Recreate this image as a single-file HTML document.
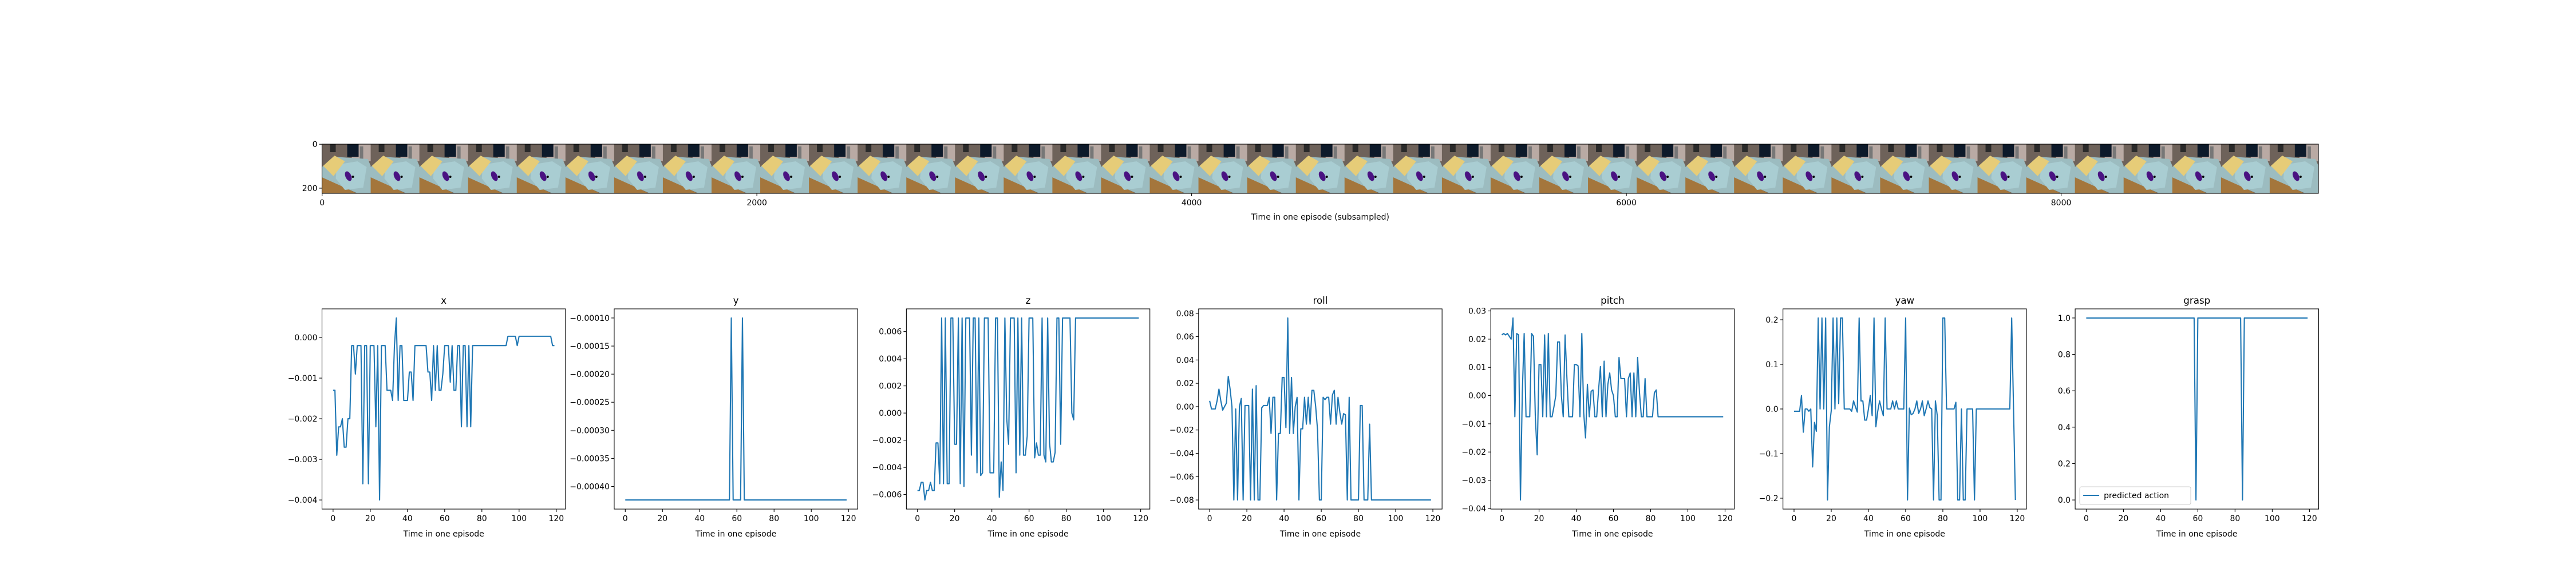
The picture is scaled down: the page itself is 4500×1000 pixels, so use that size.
<!DOCTYPE html>
<html><head><meta charset="utf-8"><style>
html,body{margin:0;padding:0;background:#fff;}
svg{display:block;font-family:"DejaVu Sans","Liberation Sans",sans-serif;}
</style></head><body>
<svg id="fig" width="4500" height="1000" viewBox="0 0 4500 1000" xmlns="http://www.w3.org/2000/svg">
<defs>
<pattern id="frame" x="562.5" y="252" width="85.06" height="86" patternUnits="userSpaceOnUse">
<rect width="86" height="86" fill="#6e625a"/>
<rect x="52" y="0" width="34" height="30" fill="#b9aaa4"/>
<rect x="44" y="0" width="20" height="22" fill="#0d1a2a"/>
<rect x="66" y="4" width="6" height="22" fill="#777"/>
<polygon points="0,55 0,86 60,86" fill="#a4763c"/>
<polygon points="0,40 20,22 80,26 86,40 86,86 62,86 0,58" fill="#9cbcc0"/>
<polygon points="26,36 62,30 78,40 72,76 40,80 24,60" fill="#a9cdd2"/>
<polygon points="2,38 22,20 40,30 20,56" fill="#e6cc78"/>
<ellipse cx="46" cy="56" rx="5" ry="9" fill="#4a1282" transform="rotate(-25 46 56)"/>
<circle cx="54" cy="57" r="2" fill="#000"/>
<rect x="14" y="0" width="10" height="14" fill="#2a2a2a"/>
</pattern>
</defs>
</svg>
<script>
// ---- data ----
const timeSteps = Array.from({length:120},(_, i)=>i);
const xVals = [-0.0013,-0.0013,-0.0029,-0.0022,-0.0022,-0.002,-0.0027,-0.0027,-0.002,-0.002,-0.0002,-0.0002,-0.0009,-0.0002,-0.0002,-0.0002,-0.0036,-0.0002,-0.0002,-0.0036,-0.0002,-0.0002,-0.0002,-0.0022,-0.0002,-0.004,-0.0002,-0.0002,-0.0002,-0.0013,-0.0013,-0.0013,-0.00155,-0.0002,0.00048,-0.00155,-0.0002,-0.0002,-0.00155,-0.00155,-0.00155,-0.00085,-0.00085,-0.00155,-0.0002,-0.0002,-0.0002,-0.0002,-0.0002,-0.0002,-0.0002,-0.00085,-0.00085,-0.00155,-0.0002,-0.0013,-0.0002,-0.0013,-0.0013,-0.0009,-0.0002,-0.0002,-0.0002,-0.0011,-0.0002,-0.0013,-0.0013,-0.0002,-0.0002,-0.0022,-0.0002,-0.0002,-0.0022,-0.0002,-0.0022,-0.0002,-0.0002,-0.0002,-0.0002,-0.0002,-0.0002,-0.0002,-0.0002,-0.0002,-0.0002,-0.0002,-0.0002,-0.0002,-0.0002,-0.0002,-0.0002,-0.0002,-0.0002,-0.0002,0.00003,0.00003,0.00003,0.00003,0.00003,-0.0002,0.00003,0.00003,0.00003,0.00003,0.00003,0.00003,0.00003,0.00003,0.00003,0.00003,0.00003,0.00003,0.00003,0.00003,0.00003,0.00003,0.00003,0.00003,-0.0002,-0.0002];
const yVals = timeSteps.map(i => (i===57||i===63) ? -0.0001 : -0.000424);
const zVals = [-0.0057,-0.0057,-0.0051,-0.0051,-0.0064,-0.0057,-0.0057,-0.0051,-0.0057,-0.0057,-0.0022,-0.0022,-0.0052,0.007,-0.0052,0.007,-0.0052,-0.0052,0.007,0.007,-0.0023,-0.0023,0.007,-0.0052,0.007,-0.0054,0.007,0.007,0.007,-0.0031,0.007,0.007,-0.0044,0.007,-0.0046,-0.0044,0.007,0.007,0.007,-0.0044,-0.0044,-0.0044,0.007,0.007,-0.0062,-0.0036,-0.0057,0.007,-0.0004,-0.0023,0.007,0.007,0.007,-0.0044,0.007,-0.0031,0.007,-0.0031,-0.0031,-0.0017,0.007,0.007,0.007,-0.0033,-0.0022,-0.0031,-0.0031,0.007,-0.0031,-0.0036,0.007,-0.0022,-0.0036,-0.0036,-0.0029,0.007,0.007,-0.0023,0.007,0.007,0.007,0.007,0.007,0.0,-0.0005].concat(Array(35).fill(0.007));
const rollVals = [0.005,-0.002,-0.002,-0.002,0.005,0.015,0.005,-0.003,0.0,0.003,0.026,0.015,0.0,-0.08,-0.002,-0.08,0.0,0.007,-0.08,0.001,0.001,0.001,-0.08,0.015,-0.08,0.018,-0.08,-0.08,-0.001,0.001,0.001,0.001,0.008,-0.023,0.008,0.008,-0.08,-0.023,-0.023,0.025,0.025,-0.018,0.076,-0.023,0.025,-0.023,0.0,0.008,-0.08,-0.019,-0.019,0.008,-0.015,0.008,-0.015,0.014,0.014,0.0,-0.02,-0.08,-0.08,0.008,0.006,0.008,0.008,-0.015,0.01,0.014,-0.015,0.008,-0.005,-0.015,-0.006,-0.007,-0.08,0.008,-0.08,-0.08,-0.08,-0.08,-0.08,0.001,0.001,-0.08,-0.08,-0.08,-0.015,-0.08].concat(Array(32).fill(-0.08));
const pitchVals = [0.0215,0.022,0.0215,0.022,0.021,0.02,0.0275,-0.0075,0.022,0.0215,-0.037,0.001,0.022,-0.0075,-0.0075,-0.0075,0.022,0.021,-0.0075,-0.021,0.011,0.011,-0.0075,0.0215,-0.0075,0.022,-0.0075,-0.0075,-0.004,0.0,0.019,0.019,0.0,-0.0075,0.0215,0.006,-0.0075,-0.0075,-0.0075,0.011,0.011,0.0105,-0.0075,0.022,-0.006,-0.015,0.004,-0.0075,0.0015,0.002,-0.0075,-0.0075,0.002,0.0103,-0.0075,0.0122,-0.0075,0.004,0.008,0.002,0.0,-0.0075,-0.0075,0.0135,0.006,0.006,0.006,-0.0075,0.006,0.008,-0.0075,0.008,-0.0075,0.0135,0.001,-0.0075,-0.0075,0.006,-0.0075,-0.0075,-0.0075,-0.0075,0.001,0.002,-0.0075].concat(Array(35).fill(-0.0075));
const yawVals = [-0.005,-0.005,-0.005,-0.005,0.03,-0.052,0.0,0.0,-0.005,0.0,-0.13,-0.03,-0.05,0.204,0.0,0.204,0.0,0.204,-0.204,-0.04,-0.004,0.204,0.0,0.204,0.012,0.204,0.204,0.0,0.0,0.0,0.0,-0.005,0.018,0.005,-0.007,0.204,0.018,0.018,-0.025,-0.025,0.0,0.03,-0.015,0.204,-0.04,-0.005,0.018,0.0,-0.015,0.204,0.0,0.0,0.0,0.018,0.0,0.018,0.0,0.0,0.0,0.0,0.204,-0.204,0.002,-0.013,-0.01,0.0,0.018,-0.01,0.0,0.018,-0.015,0.0,0.018,0.003,0.0,-0.204,0.018,-0.015,-0.204,-0.204,0.204,0.204,0.0,0.0,0.0,0.0,0.0,0.015,-0.204,-0.204,0.0,-0.204,-0.204,0.0,0.0,0.0,0.0,-0.204,0.0,0.0,0.0,0.0,0.0,0.0,0.0,0.0,0.0,0.0,0.0,0.0,0.0,0.0,0.0,0.0,0.0,0.0,0.0,0.204,0.0,-0.204];
const graspVals = timeSteps.map(i => (i===59||i===84) ? 0 : 1);
const xTicks = [0,20,40,60,80,100,120];
const xTickLabels = ["0","20","40","60","80","100","120"];
const yTicksX = [0,-0.001,-0.002,-0.003,-0.004];
const yLabelsX = ["0.000","\u22120.001","\u22120.002","\u22120.003","\u22120.004"];
const yTicksY = [-0.0001,-0.00015,-0.0002,-0.00025,-0.0003,-0.00035,-0.0004];
const yLabelsY = ["\u22120.00010","\u22120.00015","\u22120.00020","\u22120.00025","\u22120.00030","\u22120.00035","\u22120.00040"];
const yTicksZ = [-0.006,-0.004,-0.002,0,0.002,0.004,0.006];
const yLabelsZ = ["\u22120.006","\u22120.004","\u22120.002","0.000","0.002","0.004","0.006"];
const yTicksRoll = [-0.08,-0.06,-0.04,-0.02,0,0.02,0.04,0.06,0.08];
const yLabelsRoll = ["\u22120.08","\u22120.06","\u22120.04","\u22120.02","0.00","0.02","0.04","0.06","0.08"];
const yTicksPitch = [-0.04,-0.03,-0.02,-0.01,0,0.01,0.02,0.03];
const yLabelsPitch = ["\u22120.04","\u22120.03","\u22120.02","\u22120.01","0.00","0.01","0.02","0.03"];
const yTicksYaw = [-0.2,-0.1,0,0.1,0.2];
const yLabelsYaw = ["\u22120.2","\u22120.1","0.0","0.1","0.2"];
const yTicksGrasp = [0,0.2,0.4,0.6,0.8,1.0];
const yLabelsGrasp = ["0.0","0.2","0.4","0.6","0.8","1.0"];
const stripTicks = [0,2000,4000,6000,8000];
const stripTickLabels = ["0","2000","4000","6000","8000"];
const stripYTicks = [0,200];
const stripYLabels = ["0","200"];

const NS = "http://www.w3.org/2000/svg";
const svg = document.getElementById('fig');
function mk(tag, attrs, parent){
  const e = document.createElementNS(NS, tag);
  for (const k in attrs) e.setAttribute(k, attrs[k]);
  (parent||svg).appendChild(e);
  return e;
}
function txt(s, x, y, size, anchor, parent){
  const t = mk('text', {x:x, y:y, 'font-size':size, 'text-anchor':anchor, fill:'#000'}, parent);
  t.textContent = s;
  return t;
}

// ---- image strip ----
const stripL = 562.5, stripR = 4050, stripT = 252, stripB = 338;
const stripW = 9184, stripH = 224;
const sx = v => stripL + (v + 0.5) / stripW * (stripR - stripL);
const sy = v => stripT + (v + 0.5) / stripH * (stripB - stripT);
const strip = mk('g', {});


const img = mk('rect', {x:stripL, y:stripT, width:stripR-stripL, height:stripB-stripT, fill:'url(#frame)'}, strip);


mk('rect', {x:stripL, y:stripT, width:stripR-stripL, height:stripB-stripT, fill:'none', stroke:'#000', 'stroke-width':1.1}, strip);
stripTicks.forEach((v, i) => {
  const x = sx(v);
  mk('line', {x1:x, x2:x, y1:stripB, y2:stripB+5, stroke:'#000', 'stroke-width':1.1}, strip);
  const t = txt(stripTickLabels[i], x, stripB+21, 14, 'middle', strip);
  
  
});
stripYTicks.forEach((v, i) => {
  const y = sy(v);
  mk('line', {x1:stripL-5, x2:stripL, y1:y, y2:y, stroke:'#000', 'stroke-width':1.1}, strip);
  const t = txt(stripYLabels[i], stripL-8, y+5, 14, 'end', strip);
  
  
});
const sxl = txt('Time in one episode (subsampled)', (stripL+stripR)/2, 384, 14, 'middle', strip);



// ---- panels ----
const panelW = 425.36, panelStep = 510.43, pTop = 540, pBot = 890;
function panel(idx, title, vals, yTicks, yLabels, legend){
  const L = 562.5 + idx*panelStep, R = L + panelW;
  let mn = Math.min(...vals), mx = Math.max(...vals);
  const m = (mx - mn) * 0.05;
  const y0 = mn - m, y1 = mx + m;
  const x0 = -5.95, x1 = 124.95;
  const X = v => L + (v - x0) / (x1 - x0) * panelW;
  const Y = v => pBot - (v - y0) / (y1 - y0) * (pBot - pTop);
  const g = mk('g', {});
  
  
  const tt = txt(title, (L+R)/2, 531, 16.7, 'middle', g);
  
  
  const pts = vals.map((v, i) => X(timeSteps[i]).toFixed(2) + ',' + Y(v).toFixed(2)).join(' ');
  const line = mk('polyline', {points:pts, fill:'none', stroke:'#1f77b4', 'stroke-width':2.1, 'stroke-linejoin':'round'}, g);
  
  
  mk('rect', {x:L, y:pTop, width:panelW, height:pBot-pTop, fill:'none', stroke:'#000', 'stroke-width':1.1}, g);
  xTicks.forEach((v, i) => {
    const x = X(v);
    mk('line', {x1:x, x2:x, y1:pBot, y2:pBot+5, stroke:'#000', 'stroke-width':1.1}, g);
    const t = txt(xTickLabels[i], x, pBot+21, 14, 'middle', g);
    
    
  });
  yTicks.forEach((v, i) => {
    const y = Y(v);
    mk('line', {x1:L-5, x2:L, y1:y, y2:y, stroke:'#000', 'stroke-width':1.1}, g);
    const t = txt(yLabels[i], L-8, y+5, 14, 'end', g);
    
    
  });
  const xl = txt('Time in one episode', (L+R)/2, 938, 14, 'middle', g);
  
  
  if (legend){
    const lg = mk('g', {}, g);
    
    
    mk('rect', {x:L+8, y:851, width:194, height:31, rx:3, fill:'#fff', 'fill-opacity':0.8, stroke:'#ccc', 'stroke-width':1.1}, lg);
    mk('line', {x1:L+14, x2:L+42, y1:866, y2:866, stroke:'#1f77b4', 'stroke-width':2.1}, lg);
    const le = txt('predicted action', L+50, 871, 14, 'start', lg);
    
    
  }
}
panel(0, 'x', xVals, yTicksX, yLabelsX);
panel(1, 'y', yVals, yTicksY, yLabelsY);
panel(2, 'z', zVals, yTicksZ, yLabelsZ);
panel(3, 'roll', rollVals, yTicksRoll, yLabelsRoll);
panel(4, 'pitch', pitchVals, yTicksPitch, yLabelsPitch);
panel(5, 'yaw', yawVals, yTicksYaw, yLabelsYaw);
panel(6, 'grasp', graspVals, yTicksGrasp, yLabelsGrasp, true);
</script>
</body></html>
